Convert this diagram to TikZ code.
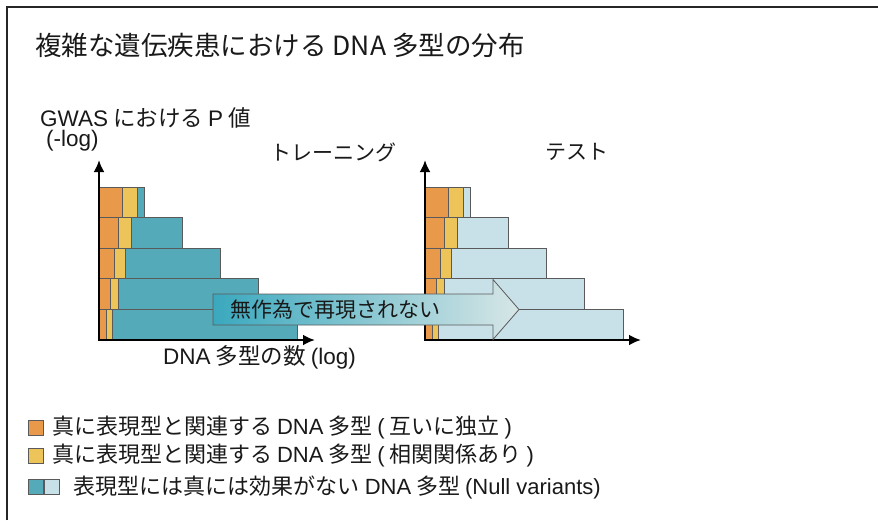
\documentclass[tikz,border=0pt]{standalone}
\usepackage{fontspec}
\setmainfont{Noto Sans CJK JP}
\newfontfamily\lat{Liberation Sans}
\usetikzlibrary{arrows.meta,positioning}
\definecolor{snporange}{HTML}{E89A4A}
\definecolor{snpyellow}{HTML}{ECC45A}
\definecolor{nullteal}{HTML}{54AAB8}
\definecolor{nulllight}{HTML}{C8E1E8}
\definecolor{barline}{HTML}{5A5A5A}
\definecolor{arrowleft}{HTML}{3AA8BE}
\definecolor{arrowright}{HTML}{D7E6E6}

\begin{document}
\begin{tikzpicture}[x=1pt,y=-1pt,
  segbox/.style={draw=barline,line width=0.8pt},
  axis/.style={line width=2.4pt,{Latex[length=12pt,width=11pt]}-{Latex[length=12pt,width=11pt]}},
  txt/.style={inner sep=0pt,anchor=west,text=black!90,font=\fontsize{21}{24}\selectfont},
  bigtxt/.style={txt,font=\fontsize{22.5}{26}\selectfont},
  keytxt/.style={txt,font=\fontsize{22}{26}\selectfont},
  keybox/.style={draw=barline,line width=0.8pt,minimum size=15pt,inner sep=0pt}]
\useasboundingbox (0,0) rectangle (878,520);
\draw[line width=2pt,black!85] (7,520) -- (7,7) -- (878,7);

\node[txt,font=\fontsize{26.5}{30}\selectfont] (title) at (35,45) {複雑な遺伝疾患における DNA 多型の分布};

% bars: training (left) and test (right)
\foreach \o/\c in {0/nullteal,326/nulllight}
  \foreach \t/\a/\b/\w in {187/23/38/45,217.6/19/32/83,248.2/15/26/121,278.8/11/19/159,309.4/7/13/198} {
    \draw[segbox,fill=\c] (\o+99+\b,\t) rectangle (\o+99+\w,\t+30.6);
    \draw[segbox,fill=snpyellow] (\o+99+\a,\t) rectangle (\o+99+\b,\t+30.6);
    \draw[segbox,fill=snporange] (\o+99,\t) rectangle (\o+99+\a,\t+30.6);
  }

\coordinate (trainO) at (99,340);
\coordinate (trainY) at (99,160);
\coordinate (trainX) at (315,340);
\coordinate (testO) at (425,340);
\coordinate (testY) at (425,160);
\coordinate (testX) at (641,340);
\draw[axis] (trainY) -- (trainO) -- (trainX);
\draw[axis] (testY) -- (testO) -- (testX);

\node[bigtxt] (pvalue) at (40,118) {{\lat GWAS} における {\lat P} 値};
\node[bigtxt] (neglog) at (46,141) {\lat (-log)};
\node[txt] (training) at (270,152) {トレーニング};
\node[txt] (test) at (545,152) {テスト};
\node[bigtxt] (count) at (163,357) {{\lat DNA} 多型の数 {\lat (log)}};

\draw[draw=barline,line width=0.8pt,left color=arrowleft,right color=arrowright]
  (213,294) -- (493,294) -- (493,279.5) -- (519,309.5) -- (493,339.5) -- (493,325) -- (213,325) -- cycle;
\node[txt] (noreplicate) at (230,309.5) {無作為で再現されない};

% legend
\node[keybox,fill=snporange] (keyind) at (36,428) {};
\node[keytxt,right=8pt of keyind] (keyindtext) {真に表現型と関連する {\lat DNA} 多型 {\lat (} 互いに独立 {\lat )}};
\node[keybox,fill=snpyellow] (keycor) at (36,456) {};
\node[keytxt,right=8pt of keycor] (keycortext) {真に表現型と関連する {\lat DNA} 多型 {\lat (} 相関関係あり {\lat )}};
\node[keybox,fill=nullteal] (keynull) at (36,487) {};
\node[keybox,fill=nulllight,right=0pt of keynull] (keynulltest) {};
\node[keytxt,right=14pt of keynulltest] (keynulltext) {表現型には真には効果がない {\lat DNA} 多型 {\lat (Null variants)}};
\end{tikzpicture}
\end{document}
